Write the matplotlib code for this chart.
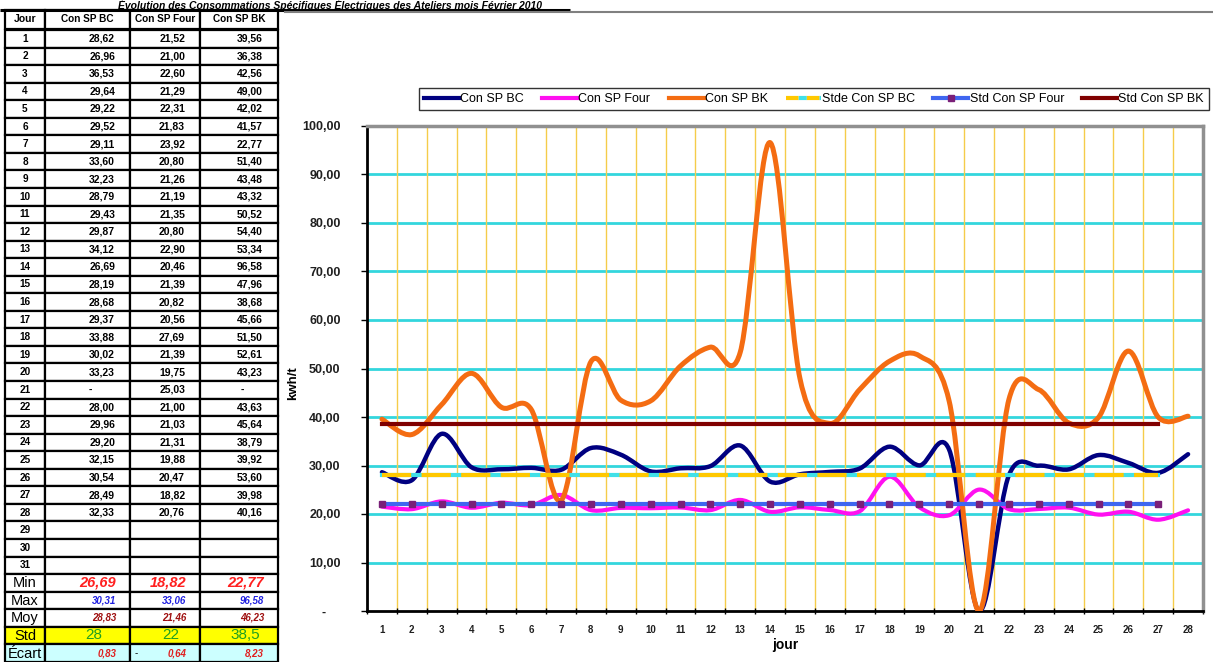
import numpy as np
import matplotlib
matplotlib.use("Agg")
import matplotlib.pyplot as plt
from matplotlib.path import Path
from matplotlib.patches import PathPatch, Rectangle
from matplotlib.lines import Line2D
from matplotlib.transforms import Bbox, TransformedBbox

plt.rcParams['font.family'] = ['Liberation Sans', 'DejaVu Sans']

# Consommations spécifiques journalières (kwh/t) - février 2010
jours = list(range(1, 29))
con_bc = [28.62, 26.96, 36.53, 29.64, 29.22, 29.52, 29.11, 33.60, 32.23, 28.79,
          29.43, 29.87, 34.12, 26.69, 28.19, 28.68, 29.37, 33.88, 30.02, 33.23,
          0.00, 28.00, 29.96, 29.20, 32.15, 30.54, 28.49, 32.33]
con_four = [21.52, 21.00, 22.60, 21.29, 22.31, 21.83, 23.92, 20.80, 21.26, 21.19,
            21.35, 20.80, 22.90, 20.46, 21.39, 20.82, 20.56, 27.69, 21.39, 19.75,
            25.03, 21.00, 21.03, 21.31, 19.88, 20.47, 18.82, 20.76]
con_bk = [39.56, 36.38, 42.56, 49.00, 42.02, 41.57, 22.77, 51.40, 43.48, 43.32,
          50.52, 54.40, 53.34, 96.58, 47.96, 38.68, 45.66, 51.50, 52.61, 43.23,
          0.00, 43.63, 45.64, 38.79, 39.92, 53.60, 39.98, 40.16]

colonnes = ["Con SP BC", "Con SP Four", "Con SP BK"]
lignes_stats = ["Min", "Max", "Moy", "Std", "Écart"]
val_min = [26.69, 18.82, 22.77]
val_max = [30.31, 33.06, 96.58]
val_moy = [28.83, 21.46, 46.23]
val_std = [28, 22, 38.5]
val_ecart = [0.83, -0.64, 8.23]

# standards tracés du jour 1 au jour 27
std_jours = jours[:27]

W, H = 1213, 662
fig = plt.figure(figsize=(W / 100, H / 100), dpi=100)

# --- couche en pixels pour le tableau -------------------------------------
bg = fig.add_axes([0, 0, 1, 1])
bg.set_xlim(0, W)
bg.set_ylim(H, 0)
bg.axis('off')


def fmt(v):
    if v == 0:
        return "-"
    return f"{v:,.2f}".replace(",", " ").replace(".", ",")


col_x = [5, 45, 130, 200, 278]
head_top, head_h = 10, 19
row_h = 17.55
row0 = head_top + head_h + 1


def cell(x0, x1, y0, y1, face='white'):
    r = Rectangle((x0, y0), x1 - x0, y1 - y0, facecolor=face, edgecolor='black',
                  lw=1.6, zorder=1)
    bg.add_patch(r)
    return r


# en-tête
cell(col_x[0], col_x[1], head_top, head_top + head_h)
bg.text((col_x[0] + col_x[1]) / 2, head_top + head_h / 2, "Jour", ha='center',
        va='center', fontsize=7.5, fontweight='bold', zorder=3)
for j, nom in enumerate(colonnes):
    cell(col_x[j + 1], col_x[j + 2], head_top, head_top + head_h)
    t = bg.text((col_x[j + 1] + col_x[j + 2]) / 2, head_top + head_h / 2, nom,
                ha='center', va='center', fontsize=7.2, fontweight='bold', zorder=3)
    t.set_clip_box(TransformedBbox(Bbox([[col_x[j + 1] + 1, head_top],
                                         [col_x[j + 2] - 1, head_top + head_h]]),
                                   bg.transData))

# jours 1 à 31
series = [con_bc, con_four, con_bk]
for i in range(31):
    y0 = row0 + i * row_h
    yc = y0 + row_h / 2
    cell(col_x[0], col_x[1], y0, y0 + row_h)
    bg.text((col_x[0] + col_x[1]) / 2, yc, str(i + 1), ha='center', va='center',
            fontsize=7.2, fontweight='bold', zorder=3)
    for j in range(3):
        cell(col_x[j + 1], col_x[j + 2], y0, y0 + row_h)
        if i < len(jours):
            v = series[j][i]
            if v == 0:
                bg.text((col_x[j + 1] + col_x[j + 2]) / 2 + 3, yc, "-", ha='center',
                        va='center', fontsize=7.5, fontweight='bold', zorder=3)
            else:
                bg.text(col_x[j + 2] - 15, yc, fmt(v), ha='right', va='center',
                        fontsize=7.5, fontweight='bold', zorder=3)

# lignes de synthèse
stats = [val_min, val_max, val_moy, val_std, val_ecart]
fonds = ['white', 'white', 'white', '#FFFF00', '#CCFFFF']
couleurs = ['#FF2020', '#2020E0', '#A01010', '#20A020', '#E02020']
tailles = [10.5, 7, 7, 11, 7]
styles = ['italic', 'italic', 'italic', 'normal', 'italic']
graisses = ['bold', 'bold', 'bold', 'normal', 'bold']
for k, nom in enumerate(lignes_stats):
    y0 = row0 + (31 + k) * row_h
    yc = y0 + row_h / 2
    cell(col_x[0], col_x[1], y0, y0 + row_h, fonds[k])
    bg.text((col_x[0] + col_x[1]) / 2, yc + 0.5, nom, ha='center', va='center',
            fontsize=10.5, zorder=5)
    for j in range(3):
        cell(col_x[j + 1], col_x[j + 2], y0, y0 + row_h, fonds[k])
        v = stats[k][j]
        if nom == "Std":
            txt = f"{v:g}".replace(".", ",")
            bg.text((col_x[j + 1] + col_x[j + 2]) / 2 + 6, yc, txt, ha='center',
                    va='center', fontsize=tailles[k], color=couleurs[k], zorder=3)
            continue
        if v < 0:
            bg.text(col_x[j + 1] + 5, yc, "-", ha='left', va='center',
                    fontsize=7, zorder=3)
        bg.text(col_x[j + 2] - 14, yc, fmt(abs(v)), ha='right', va='center',
                fontsize=tailles[k], fontstyle=styles[k], fontweight=graisses[k],
                color=couleurs[k], zorder=3)

# titre au-dessus du tableau
fig.text(118 / W, 1 - 9 / H, "Évolution des Consommations Spécifiques Électriques "
         "des Ateliers mois Février 2010", ha='left', va='baseline', fontsize=7.5,
         fontweight='bold', fontstyle='italic')
bg.plot([0, 570], [10, 10], color='black', lw=2.2, zorder=4, solid_capstyle='butt')
bg.plot([285, W], [12, 12], color='#808080', lw=1.5, zorder=4)

# --- graphique ------------------------------------------------------------
ax = fig.add_axes([367 / W, 1 - 611 / H, (1203 - 367) / W, (611 - 126) / H])
ax.set_facecolor('white')
ax.set_xlim(0.5, 28.5)
ax.set_ylim(0, 100)


def lisse(xs, ys):
    # courbe lissée en segments de Bézier passant par chaque point
    pts = np.column_stack([xs, ys]).astype(float)
    n = len(pts)
    verts = [pts[0]]
    codes = [Path.MOVETO]
    for i in range(n - 1):
        p0 = pts[max(i - 1, 0)]
        p1 = pts[i]
        p2 = pts[i + 1]
        p3 = pts[min(i + 2, n - 1)]
        verts += [p1 + (p2 - p0) / 6, p2 - (p3 - p1) / 6, p2]
        codes += [Path.CURVE4] * 3
    return Path(verts, codes)


# quadrillage
for y in range(10, 100, 10):
    ax.axhline(y, color='#33D6DD', lw=2, zorder=1)
for x in np.arange(1.5, 28.5, 1):
    ax.axvline(x, color='#F5CC4A', lw=1, zorder=1)

c_bc, c_four, c_bk = '#000080', '#FF10F0', '#F46C12'
for ys, c, lw in [(con_bc, c_bc, 3.2), (con_four, c_four, 3.0), (con_bk, c_bk, 3.6)]:
    ax.add_patch(PathPatch(lisse(jours, ys), facecolor='none', edgecolor=c, lw=lw,
                           capstyle='round', joinstyle='round', zorder=3))

std_bc = [val_std[0]] * len(std_jours)
std_four = [val_std[1]] * len(std_jours)
std_bk = [val_std[2]] * len(std_jours)
ax.plot(std_jours, std_bc, color='#40E0E8', lw=3, zorder=4)
ax.plot(std_jours, std_bc, color='#FFC800', lw=3, zorder=4, dashes=(7, 2.5))
ax.plot(std_jours, std_four, color='#3F66F0', lw=3, zorder=4, marker='s',
        markersize=5, markerfacecolor='#7A1F78', markeredgecolor='#7A1F78')
ax.plot(std_jours, std_bk, color='#800000', lw=3, zorder=4)

ax.set_yticks(range(0, 101, 10))
ax.set_yticklabels(["-    " if v == 0 else fmt(v) for v in range(0, 101, 10)],
                   fontsize=9, fontweight='bold', color='#202020')
ax.set_xticks(jours)
ax.set_xticklabels([str(d) for d in jours], fontsize=7, fontweight='bold',
                   color='#202020')
ax.set_xticks(np.arange(0.5, 28.6, 1), minor=True)
ax.tick_params(axis='x', which='major', length=0, pad=10)
ax.tick_params(axis='x', which='minor', length=4, width=1, direction='inout')
ax.tick_params(axis='y', length=4, width=1, pad=15)
ax.set_xlabel("jour", fontsize=10, fontweight='bold', labelpad=2)
ax.set_ylabel("kwh/t", fontsize=9.5, fontweight='bold')
ax.yaxis.set_label_coords((299 - 367) / (1203 - 367), 0.47)

for s in ['left', 'bottom']:
    ax.spines[s].set_color('black')
    ax.spines[s].set_linewidth(2)
for s in ['top', 'right']:
    ax.spines[s].set_color('#909090')
    ax.spines[s].set_linewidth(2.5)

poignees = [
    Line2D([], [], color=c_bc, lw=3),
    Line2D([], [], color=c_four, lw=3),
    Line2D([], [], color=c_bk, lw=3),
    Line2D([], [], color='#FFC800', lw=3, dashes=(3, 2), gapcolor='#40E0E8'),
    Line2D([], [], color='#3F66F0', lw=3, marker='s', markersize=5,
           markerfacecolor='#7A1F78', markeredgecolor='#7A1F78'),
    Line2D([], [], color='#800000', lw=3),
]
noms = ["Con SP BC", "Con SP Four", "Con SP BK", "Stde Con SP BC",
        "Std Con SP Four", "Std Con SP BK"]
leg = fig.legend(poignees, noms, loc='center', bbox_to_anchor=(814 / W, 1 - 99 / H),
                 ncol=6, fontsize=9, frameon=True, fancybox=False,
                 edgecolor='black', handlelength=2.8, handletextpad=0.1,
                 columnspacing=1.45, borderpad=0.4)
leg.get_frame().set_linewidth(1)

fig.savefig("out.png", dpi=100)
